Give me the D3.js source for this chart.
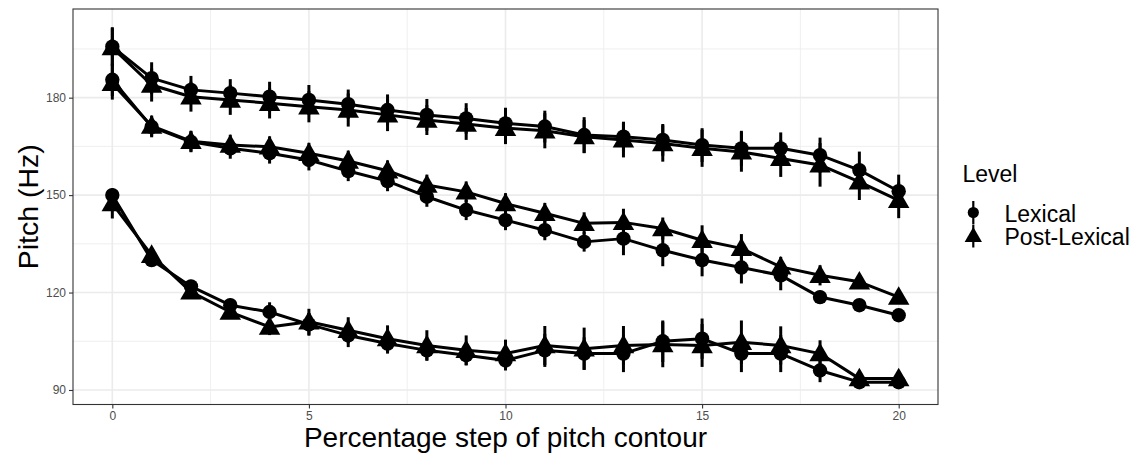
<!DOCTYPE html>
<html>
<head>
<meta charset="utf-8">
<script src="https://cdn.jsdelivr.net/npm/d3@7"></script>
<style>
  html, body { margin: 0; padding: 0; background: #fff; }
  svg { display: block; font-family: "Liberation Sans", Arial, Helvetica, sans-serif; }
</style>
</head>
<body>
<svg id="chart" width="1146" height="453"></svg>
<script>
// ---- Data ----
const steps = d3.range(0, 21); // 0..20
const xTicks = [0, 5, 10, 15, 20];
const yTicks = [90, 120, 150, 180];
const levels = ["Lexical", "Post-Lexical"];

// Upper contour
const upperLexical     = [195.7,186.0,182.4,181.4,180.3,179.3,178.0,176.2,174.7,173.6,172.1,171.1,168.5,168.0,167.0,165.4,164.4,164.4,162.3,157.7,151.2];
const upperLexicalErr  = [6.0,4.9,4.3,4.3,4.6,4.6,4.5,4.8,4.9,4.7,4.8,4.9,5.5,4.6,4.9,5.2,5.4,4.9,5.4,5.7,5.1];
const upperPost        = [195.4,183.9,180.3,179.3,178.3,177.2,176.2,174.7,173.1,171.9,170.6,169.8,168.0,167.0,165.9,164.4,163.3,161.3,159.3,154.1,148.4];
const upperPostErr     = [6.0,5.1,4.6,4.6,4.7,4.8,5.1,5.0,4.6,4.9,4.9,5.4,5.1,5.4,5.6,5.7,6.1,5.7,6.7,5.6,5.5];

// Middle contour
const middleLexical    = [185.5,171.0,166.4,164.4,162.9,160.8,157.4,154.3,149.5,145.4,142.3,139.2,135.6,136.6,133.0,130.0,127.7,125.3,118.6,116.1,113.0];
const middleLexicalErr = [5.0,3.2,3.2,3.2,3.2,3.2,3.1,3.1,3.1,3.1,3.1,3.1,3.0,5.1,4.9,5.0,4.9,4.6,2.0,1.8,1.8];
const middlePost       = [184.4,171.3,166.6,165.4,164.9,162.9,160.5,157.5,153.1,151.0,147.4,144.4,141.3,141.6,139.7,136.1,133.6,127.9,125.3,123.3,118.6];
const middlePostErr    = [5.0,3.2,3.2,3.2,3.2,3.2,3.2,3.2,3.2,3.2,3.2,3.2,3.4,4.2,3.4,4.6,4.4,3.1,3.1,2.0,2.0];

// Lower contour
const lowerLexical     = [150.0,130.0,121.9,116.1,114.0,110.2,106.8,104.3,102.2,100.7,99.1,102.2,101.2,101.2,105.0,105.8,101.2,101.2,96.0,92.4,92.4];
const lowerLexicalErr  = [2.0,2.0,2.0,2.0,3.0,3.5,3.6,3.1,3.1,3.1,3.1,5.1,5.0,5.7,6.4,6.2,5.7,5.7,3.6,1.8,1.8];
const lowerPost        = [147.4,131.5,120.2,114.0,109.4,111.0,108.4,105.8,103.7,102.2,101.2,103.7,102.7,103.7,104.0,103.7,104.7,103.7,101.2,93.5,93.5];
const lowerPostErr     = [4.6,2.0,2.0,2.0,2.5,4.0,4.0,4.1,4.7,4.6,4.3,6.0,6.5,6.0,7.0,6.6,6.7,5.9,4.1,2.0,2.0];

const series = [
  { level: "Lexical",      values: upperLexical,  err: upperLexicalErr },
  { level: "Post-Lexical", values: upperPost,     err: upperPostErr },
  { level: "Lexical",      values: middleLexical, err: middleLexicalErr },
  { level: "Post-Lexical", values: middlePost,    err: middlePostErr },
  { level: "Lexical",      values: lowerLexical,  err: lowerLexicalErr },
  { level: "Post-Lexical", values: lowerPost,     err: lowerPostErr }
];

// ---- Layout ----
const panel = { left: 73, right: 938, top: 9, bottom: 404.5 };
const svg = d3.select("#chart");

const x = d3.scaleLinear().domain([-1, 21]).range([panel.left, panel.right]);
const y = d3.scaleLinear().domain([85.53, 207.3]).range([panel.bottom, panel.top]);

// panel background
svg.append("rect")
  .attr("x", panel.left).attr("y", panel.top)
  .attr("width", panel.right - panel.left).attr("height", panel.bottom - panel.top)
  .attr("fill", "#fff");

// grid lines
const grid = svg.append("g");
const minorX = [2.5, 7.5, 12.5, 17.5];
const minorY = [105, 135, 165, 195];
grid.selectAll(".mx").data(minorX).join("line")
  .attr("x1", d => x(d)).attr("x2", d => x(d))
  .attr("y1", panel.top).attr("y2", panel.bottom)
  .attr("stroke", "#ebebeb").attr("stroke-width", 0.8);
grid.selectAll(".my").data(minorY).join("line")
  .attr("y1", d => y(d)).attr("y2", d => y(d))
  .attr("x1", panel.left).attr("x2", panel.right)
  .attr("stroke", "#ebebeb").attr("stroke-width", 0.8);
grid.selectAll(".Mx").data(xTicks).join("line")
  .attr("x1", d => x(d)).attr("x2", d => x(d))
  .attr("y1", panel.top).attr("y2", panel.bottom)
  .attr("stroke", "#ebebeb").attr("stroke-width", 1.6);
grid.selectAll(".My").data(yTicks).join("line")
  .attr("y1", d => y(d)).attr("y2", d => y(d))
  .attr("x1", panel.left).attr("x2", panel.right)
  .attr("stroke", "#ebebeb").attr("stroke-width", 1.6);

// ---- Marks ----
const marks = svg.append("g");
const line = d3.line().x((d, i) => x(steps[i])).y(d => y(d));
const circleSym = d3.symbol().type(d3.symbolCircle).size(Math.PI * 7.2 * 7.2);
const triSym = d3.symbol().type(d3.symbolTriangle).size(200);

series.forEach(s => {
  const g = marks.append("g");
  // error bars
  g.selectAll("line.eb").data(s.values).join("line")
    .attr("x1", (d, i) => x(steps[i])).attr("x2", (d, i) => x(steps[i]))
    .attr("y1", (d, i) => y(d - s.err[i])).attr("y2", (d, i) => y(d + s.err[i]))
    .attr("stroke", "#000").attr("stroke-width", 3);
});
series.forEach(s => {
  marks.append("path").datum(s.values)
    .attr("d", line)
    .attr("fill", "none").attr("stroke", "#000").attr("stroke-width", 3)
    .attr("stroke-linejoin", "round");
});
series.forEach(s => {
  const sym = s.level === "Lexical" ? circleSym : triSym;
  const dy = s.level === "Lexical" ? 0 : 1.5;
  marks.append("g").selectAll("path").data(s.values).join("path")
    .attr("d", sym())
    .attr("transform", (d, i) => `translate(${x(steps[i])},${y(d) + dy})`)
    .attr("fill", "#000");
});

// panel border
svg.append("rect")
  .attr("x", panel.left).attr("y", panel.top)
  .attr("width", panel.right - panel.left).attr("height", panel.bottom - panel.top)
  .attr("fill", "none").attr("stroke", "#333").attr("stroke-width", 1.1);

// ---- Axes ----
const xAxis = d3.axisBottom(x).tickValues(xTicks).tickSize(4).tickPadding(3).tickFormat(d3.format("d"));
const yAxis = d3.axisLeft(y).tickValues(yTicks).tickSize(4).tickPadding(3).tickFormat(d3.format("d"));

const gx = svg.append("g").attr("transform", `translate(0,${panel.bottom})`).call(xAxis);
const gy = svg.append("g").attr("transform", `translate(${panel.left},0)`).call(yAxis);
[gx, gy].forEach(g => {
  g.select(".domain").remove();
  g.selectAll(".tick line").attr("stroke", "#333").attr("stroke-width", 1.1);
  g.selectAll(".tick text").attr("fill", "#4d4d4d")
    .style("font-size", "12px")
    .style("font-family", '"Liberation Sans", Arial, sans-serif');
});

// axis titles
svg.append("text")
  .attr("x", (panel.left + panel.right) / 2).attr("y", 446.5)
  .attr("text-anchor", "middle")
  .style("font-size", "28px").attr("fill", "#000")
  .text("Percentage step of pitch contour");

svg.append("text")
  .attr("transform", `translate(37.5,${(panel.top + panel.bottom) / 2}) rotate(-90)`)
  .attr("text-anchor", "middle")
  .style("font-size", "28.5px").attr("fill", "#000")
  .text("Pitch (Hz)");

// ---- Legend ----
const legend = svg.append("g");
legend.append("text")
  .attr("x", 962.5).attr("y", 182)
  .style("font-size", "23px").attr("fill", "#000")
  .text("Level");

const keyY = [212.5, 236];
const legCircle = d3.symbol().type(d3.symbolCircle).size(Math.PI * 5.6 * 5.6);
const legTri = d3.symbol().type(d3.symbolTriangle).size(130);
levels.forEach((lv, i) => {
  const cy = keyY[i];
  legend.append("line")
    .attr("x1", 973.3).attr("x2", 973.3)
    .attr("y1", cy - 11.5).attr("y2", cy + 11.5)
    .attr("stroke", "#000").attr("stroke-width", 2.2);
  legend.append("path")
    .attr("d", (i === 0 ? legCircle : legTri)())
    .attr("transform", `translate(973.3,${cy + (i === 0 ? 0 : 1)})`)
    .attr("fill", "#000");
  legend.append("text")
    .attr("x", 1004.5).attr("y", cy + 9)
    .style("font-size", "23px").attr("fill", "#000")
    .text(lv);
});
</script>
</body>
</html>
